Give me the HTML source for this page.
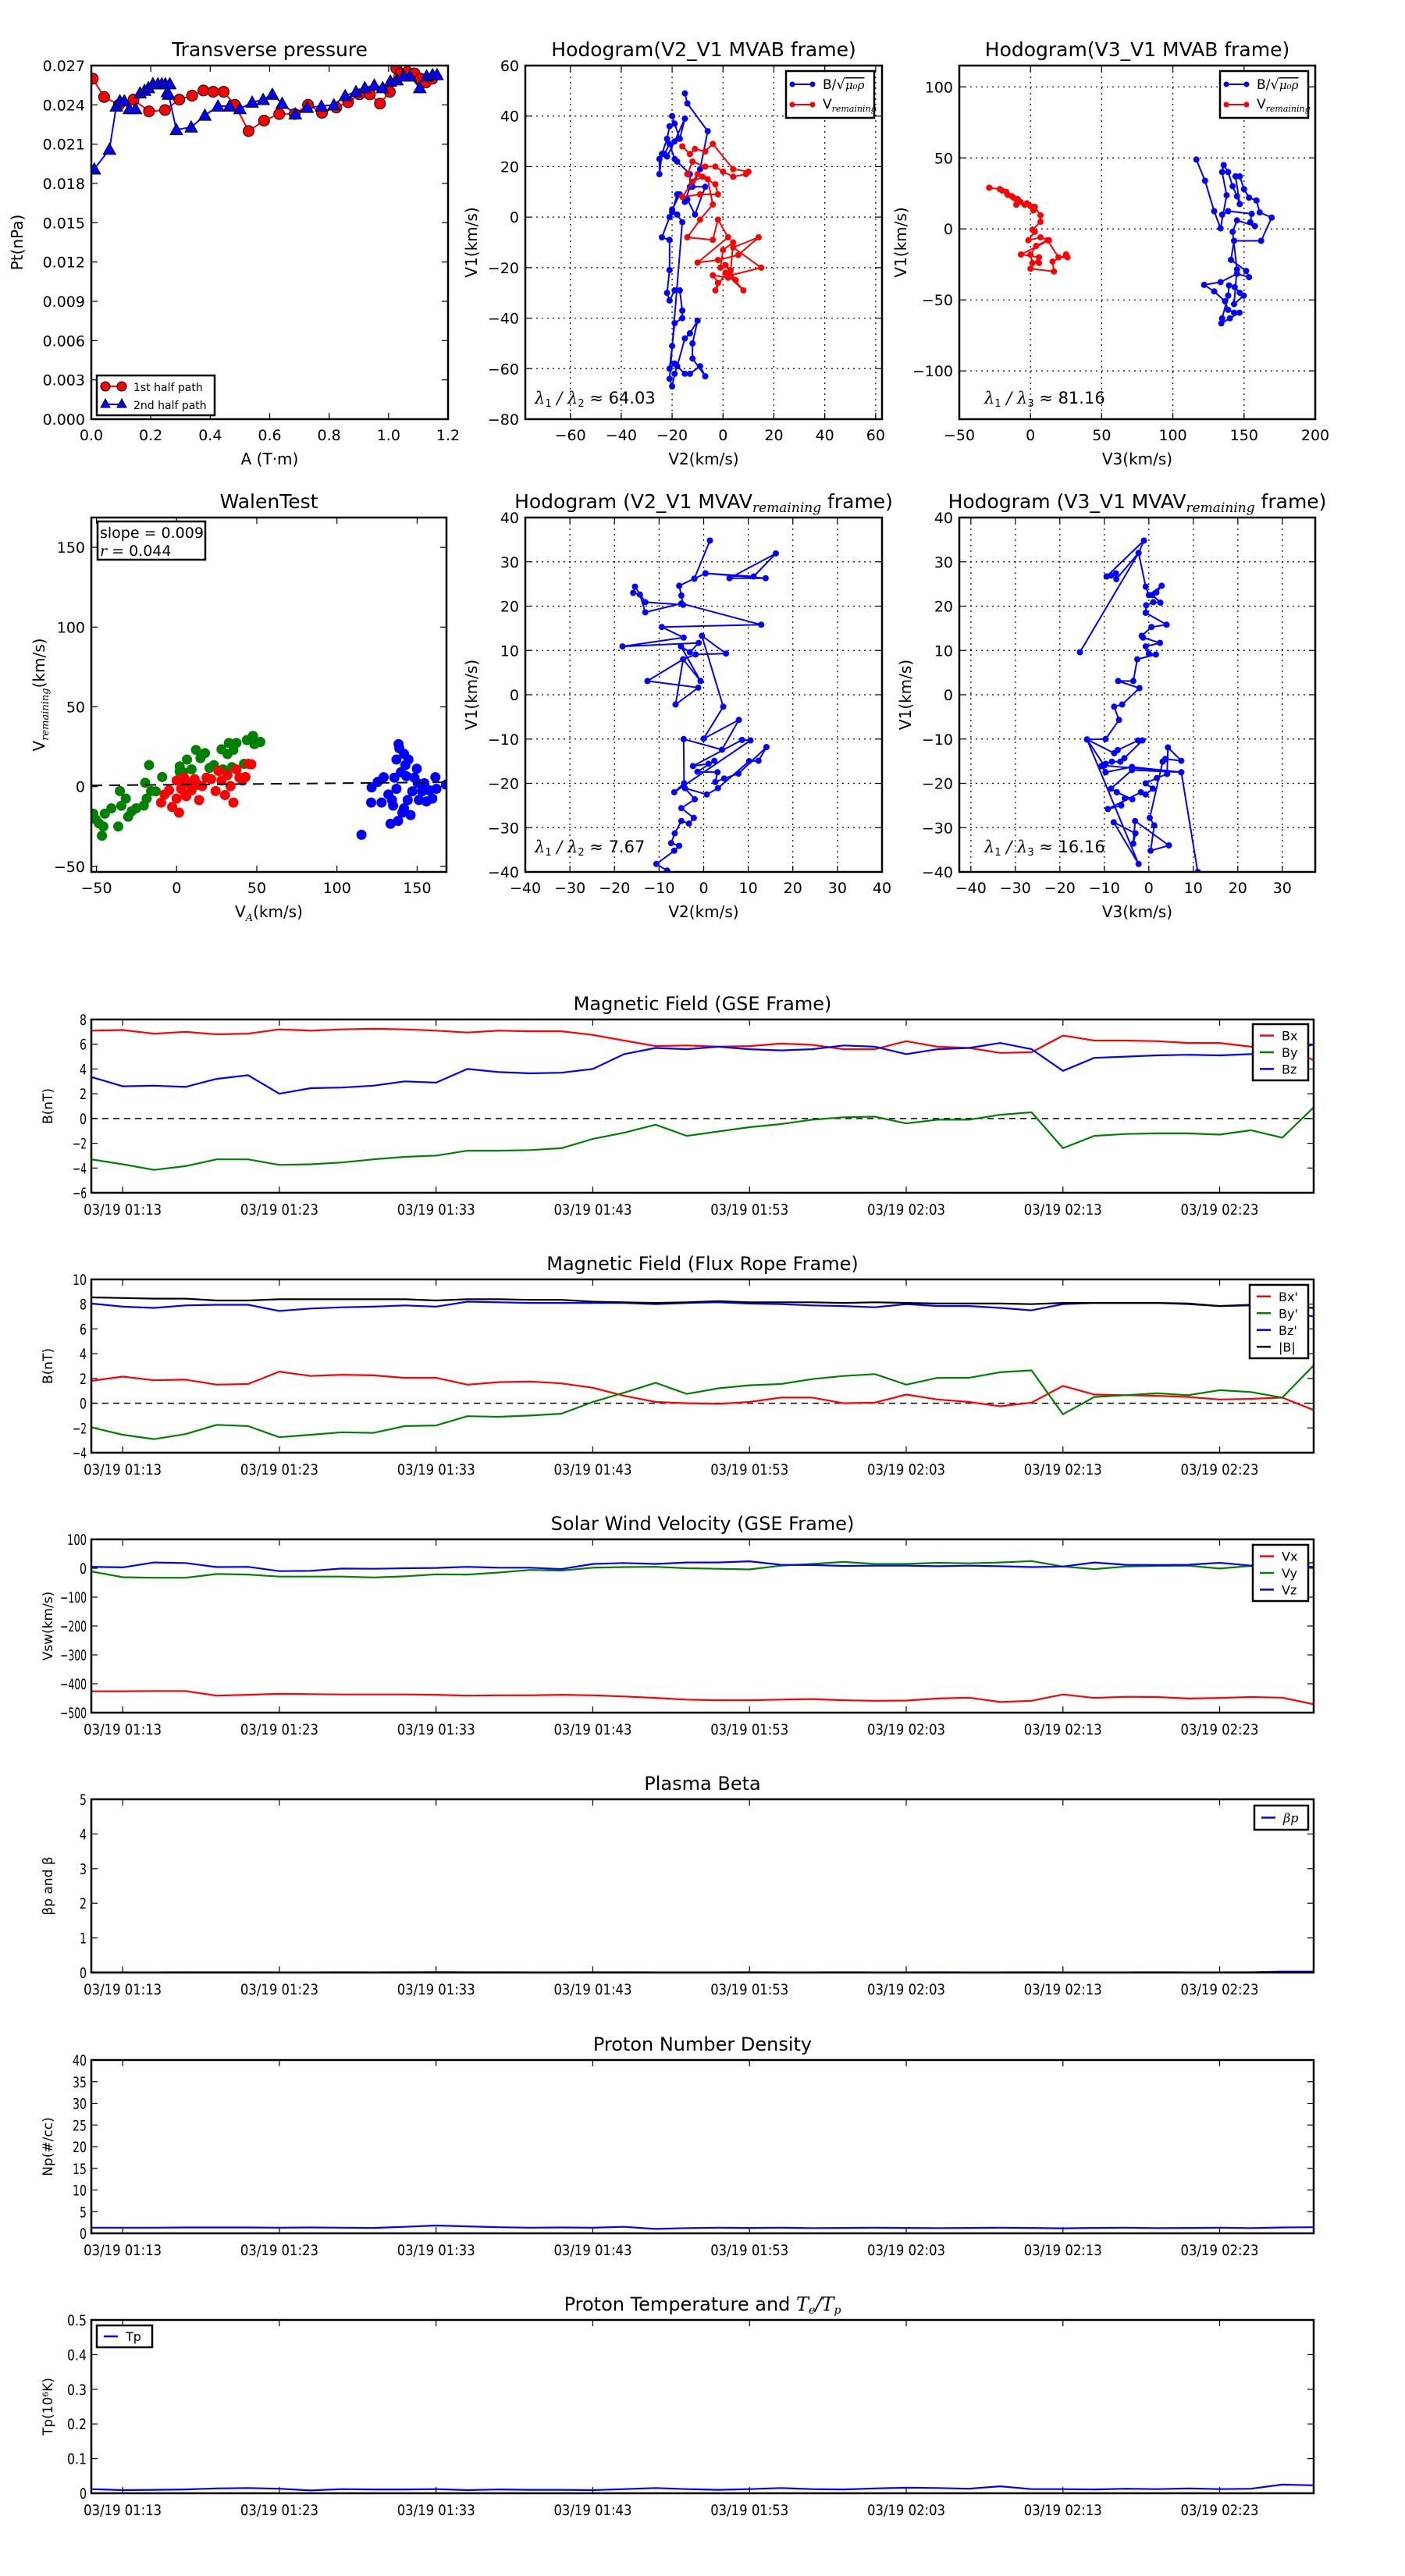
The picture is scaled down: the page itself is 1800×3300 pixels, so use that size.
<!DOCTYPE html>
<html><head><meta charset="utf-8"><title>Flux rope analysis</title>
<style>
html,body{margin:0;padding:0;background:#fff;}
svg{display:block;font-family:"DejaVu Sans","Liberation Sans",sans-serif;}
</style></head>
<body>
<svg id="fig" width="1800" height="3300" viewBox="0 0 1800 3300" xmlns="http://www.w3.org/2000/svg"></svg>
<script>
// ---------- time-series data (every 2 minutes from 01:11) ----------
const tMin = [0,2,4,6,8,10,12,14,16,18,20,22,24,26,28,30,32,34,36,38,40,42,44,46,48,50,52,54,56,58,60,62,64,66,68,70,72,74,76,78];
const timeTickMin = [2,12,22,32,42,52,62,72];
const timeTickLabels = ["03/19 01:13","03/19 01:23","03/19 01:33","03/19 01:43","03/19 01:53","03/19 02:03","03/19 02:13","03/19 02:23"];
const gseBx = [7.1,7.15,6.85,7.0,6.8,6.85,7.2,7.1,7.2,7.25,7.2,7.1,6.95,7.1,7.05,7.05,6.75,6.3,5.85,5.9,5.8,5.85,6.05,5.95,5.6,5.6,6.25,5.8,5.7,5.3,5.35,6.7,6.3,6.3,6.25,6.1,6.1,5.8,5.9,4.7];
const gseBy = [-3.3,-3.7,-4.15,-3.85,-3.3,-3.3,-3.75,-3.7,-3.55,-3.3,-3.1,-3.0,-2.6,-2.6,-2.55,-2.4,-1.65,-1.15,-0.5,-1.4,-1.05,-0.7,-0.45,-0.1,0.1,0.15,-0.4,-0.1,-0.1,0.3,0.5,-2.4,-1.4,-1.25,-1.2,-1.2,-1.3,-0.95,-1.55,0.9];
const gseBz = [3.35,2.6,2.65,2.55,3.2,3.5,2.0,2.45,2.5,2.65,3.0,2.9,4.0,3.75,3.65,3.7,4.0,5.2,5.7,5.6,5.8,5.6,5.5,5.6,5.9,5.8,5.2,5.6,5.7,6.1,5.6,3.85,4.9,5.0,5.1,5.15,5.1,5.2,5.2,6.0];
const frBx = [1.8,2.15,1.85,1.9,1.5,1.55,2.55,2.2,2.3,2.25,2.05,2.05,1.5,1.7,1.75,1.6,1.25,0.6,0.1,0,-0.05,0.1,0.45,0.45,0,0.05,0.7,0.3,0.1,-0.25,0.05,1.4,0.7,0.65,0.6,0.5,0.3,0.35,0.45,-0.55];
const frBy = [-1.95,-2.55,-2.9,-2.5,-1.75,-1.85,-2.75,-2.55,-2.35,-2.4,-1.85,-1.8,-1.05,-1.1,-1.0,-0.85,0.1,0.85,1.65,0.75,1.2,1.45,1.55,1.95,2.2,2.35,1.5,2.05,2.05,2.5,2.65,-0.9,0.5,0.65,0.8,0.65,1.05,0.9,0.45,3.05];
const frBz = [8.05,7.8,7.7,7.9,7.95,7.95,7.45,7.65,7.75,7.8,7.9,7.8,8.2,8.15,8.1,8.1,8.1,8.1,8.0,8.1,8.15,8.05,8.0,7.9,7.85,7.75,8.0,7.85,7.85,7.7,7.5,8.0,8.1,8.1,8.1,8.0,7.85,7.9,7.5,7.0];
const frBm = [8.55,8.5,8.45,8.45,8.3,8.3,8.4,8.4,8.4,8.4,8.4,8.3,8.4,8.4,8.35,8.35,8.2,8.15,8.1,8.15,8.25,8.15,8.15,8.15,8.1,8.15,8.1,8.05,8.05,8.05,8.0,8.1,8.1,8.1,8.1,8.05,7.85,7.95,7.8,7.7];
const velVx = [-426,-426,-425,-425,-441,-438,-435,-436,-437,-437,-437,-438,-441,-440,-440,-438,-440,-444,-449,-455,-457,-457,-455,-453,-457,-459,-458,-451,-448,-463,-459,-437,-449,-445,-446,-451,-449,-446,-448,-471];
const velVy = [-11,-31,-33,-33,-20,-22,-29,-29,-29,-32,-28,-21,-22,-15,-6,-8,2,4,5,0,-2,-4,9,15,22,15,15,19,17,20,25,6,-3,6,8,9,-1,8,6,20];
const velVz = [5,3,20,18,4,5,-10,-9,-1,-2,0,1,5,2,2,-3,15,18,15,20,20,24,12,11,8,9,9,7,9,7,4,6,20,12,11,12,19,9,14,4];
const betaP = [0.01,0.01,0.01,0.012,0.012,0.011,0.01,0.01,0.011,0.01,0.012,0.014,0.012,0.011,0.01,0.01,0.011,0.012,0.01,0.01,0.01,0.011,0.01,0.01,0.011,0.01,0.01,0.011,0.01,0.01,0.012,0.01,0.01,0.01,0.011,0.01,0.01,0.012,0.03,0.03];
const densNp = [1.3,1.3,1.3,1.35,1.35,1.35,1.3,1.35,1.3,1.25,1.5,1.8,1.6,1.4,1.3,1.35,1.3,1.5,1.0,1.2,1.3,1.25,1.3,1.2,1.25,1.3,1.25,1.2,1.25,1.3,1.25,1.15,1.25,1.3,1.2,1.25,1.3,1.2,1.35,1.4];
const tempTp = [0.012,0.009,0.01,0.011,0.014,0.015,0.013,0.008,0.012,0.011,0.011,0.012,0.009,0.011,0.01,0.01,0.009,0.012,0.015,0.012,0.01,0.012,0.015,0.012,0.011,0.014,0.016,0.015,0.013,0.02,0.012,0.012,0.011,0.013,0.012,0.014,0.012,0.013,0.025,0.023];

// ---------- transverse pressure ----------
const pt1A = [0.005,0.043,0.093,0.142,0.194,0.248,0.296,0.339,0.377,0.41,0.445,0.483,0.529,0.581,0.632,0.684,0.729,0.776,0.824,0.864,0.902,0.937,0.971,1.004,1.026,1.041,1.063,1.087,1.107,1.125,1.147];
const pt1P = [0.026,0.0246,0.024,0.0244,0.0235,0.0236,0.0244,0.0247,0.0251,0.025,0.025,0.024,0.022,0.0228,0.0233,0.0233,0.024,0.0234,0.0238,0.0242,0.0248,0.0248,0.0241,0.025,0.0268,0.0264,0.0265,0.0264,0.026,0.0257,0.026];
const pt2A = [0.01,0.061,0.084,0.096,0.111,0.128,0.149,0.164,0.179,0.192,0.207,0.224,0.237,0.249,0.264,0.256,0.26,0.286,0.336,0.382,0.426,0.465,0.5,0.541,0.578,0.609,0.642,0.686,0.726,0.774,0.816,0.854,0.89,0.92,0.952,0.98,1.006,1.028,1.051,1.072,1.105,1.128,1.148,1.163];
const pt2P = [0.0191,0.0206,0.0239,0.0243,0.0243,0.0237,0.0237,0.0249,0.0251,0.0253,0.0256,0.0256,0.0256,0.0256,0.0256,0.025,0.0248,0.0221,0.0223,0.0232,0.0239,0.0239,0.0237,0.0242,0.0244,0.0248,0.0241,0.0233,0.0238,0.0239,0.024,0.0247,0.025,0.0253,0.0255,0.0253,0.0258,0.0259,0.0262,0.0262,0.0253,0.0262,0.0263,0.0263];

// ---------- hodogram MVAB V2-V1 ----------
const h1BlueV2 = [-15,-14,-6,-9,-12,-7,-11,-14,-18,-20,-21,-24,-21,-21,-22,-21,-19,-17,-16,-16,-19,-20,-21,-19,-15,-13,-9,-7,-12,-12,-10,-13,-15,-18,-19,-20,-21,-16,-18,-20,-17,-15,-13,-13,-18,-19,-21,-23,-25,-25,-24,-22,-21,-19,-20,-17,-15,-19,-22];
const h1BlueV1 = [49,45,34,19,12,12,1,7,9,2,0,-8,-9,-21,-30,-33,-29,-29,-37,-40,-42,-51,-60,-58,-62,-62,-59,-63,-56,-50,-41,-46,-48,-59,-62,-67,-64,-2,1,3,9,6,12,17,22,23,29,25,23,17,25,31,36,37,40,31,39,30,24];
const h1RedV2 = [-16,-13,-11,-7,-4,4,10,9,4,0,-3,-7,-12,-14,-12,-8,-3,-2,-9,-16,-10,-6,-4,-9,-14,-4,-2,2,-10,-2,6,14,4,15,3,8,1,-3,-2,-4,2,5,1,3,4,0,-1];
const h1RedV1 = [28,25,27,26,29,19,18,17,16,18,20,20,22,17,14,16,13,9,9,8,17,15,5,-1,-8,-9,-1,-8,-18,-17,-15,-8,-12,-20,-23,-29,-22,-29,-26,-23,-24,-25,-19,-21,-10,-13,-20];

// ---------- hodogram MVAB V3-V1 ----------
const h2RedV3 = [-29,-21.5,-20,-17,-16,-13,-12,-10,-9,-7,-4,-2.5,0,2,3,7,7,1.3,3,-1.5,7,13,-6.7,6,0,16.5,15.5,25,26,19.6,12,4,0,1.3,6];
const h2RedV1 = [29,28,27,26,24,23,22,17,21,19,17,18,16,13,15.5,9.6,5,-0.6,-2,-8,-6,-8,-18,-20,-28,-30,-23,-18,-20,-20,-8,-12,-18,-24,-24];
const h2BlueV3 = [116.5,122.6,129,133.5,137.8,134.6,135.7,138.8,142,145,147,144,147,150,153.5,158.7,161,169.4,162,143,140.8,151.5,153.5,145,133.5,122,129,136.7,138.8,143,146.8,140,134,134.6,138.8,139.4,143.4,147,149.8,143,145,142,145,157.6,154.4,155.4,138.8,134.6];
const h2BlueV1 = [48.8,33.9,12.5,0.4,23.7,40,44.9,40,30,23,17.5,37,37,28,22,20,11.6,8,-8.4,-8.4,-21.8,-29.6,-34,-31.6,-37.5,-39.4,-44,-51,-57,-59,-59,-63,-66.5,-63,-47,-39.8,-41,-45,-47,-53,-28.6,-2,6,2,4.7,10.6,12.5,10];

// ---------- Walen test ----------
const walGreenVA = [-52,-48.5,-46.6,-44.8,-40.7,-36.4,-35.4,-34.5,-31.7,-30.2,-28,-25.2,-20.5,-19.6,-18.7,-17.2,-15.9,-9,1.9,4,6.5,9.3,12.1,14.9,17.7,20.5,23.3,28,28.9,31.7,32.6,35.4,37.3,42,43.8,47.6,48.5,52.2,34.5,1.9,-13,-45.7,-50.4];
const walGreenVR = [-17,-23,-30.8,-17,-13.6,-25,-2.8,-12,-7.5,-18.9,-15.4,-13.6,-11.9,2.4,-7.5,13.5,-2.8,6,12.6,9,17,10.8,23,17.8,21,11.7,13.5,23.4,10.8,20.4,27.4,23,27.4,14.3,29.2,31.8,26.6,28,12.2,9.4,-3,-25,-20.6];
const walRedVA = [-9.7,-7.5,-4.7,-2.8,0,1.5,1.9,2.8,4.7,5.6,7.5,9.3,11.2,13.1,14,15.9,18.7,21.5,24.3,26.1,28,30.2,31.7,33.6,35.4,37.3,39.2,41,42.9,44.8,46.6,0,6,10];
const walRedVR = [-10,-4.9,-2.3,-12.8,-7.5,-16.3,3.8,-1.4,5.6,-4.9,2.1,-2.3,4.7,1.2,-8.4,0.35,5.6,4.7,-2.8,9.9,3.8,-5.3,7.3,0.35,-10,10.8,5.6,3.8,6,14.3,14,3.8,-6,0];
const walBlueVA = [115.3,121.3,121.6,125.4,127.8,129.1,132.1,133.4,134.3,135.8,137.1,138.1,137.1,138.4,138.9,139.9,140.8,141.8,142.7,143.3,144.1,144.6,145.9,147,148.3,149.8,151.1,153,154.5,155.8,157.6,159.5,161.4,162,168,135,141.8,150.4];
const walBlueVR = [-30.2,-10,-0.5,3,-10,5.9,-4.9,-23.3,-8.4,5.6,-1.4,-21.5,17,26.6,24,9,-16.3,20.5,13.5,6.5,-8.4,17,-17.8,-3,5.6,11.2,-8.4,-3,2.1,-9.3,-2.3,-7.5,5.9,-1.4,1.2,-11.9,-13.6,2.1];
const walSlope = [0.009];
const walIntercept = [1.2];

// ---------- hodogram MVAV V2-V1 ----------
const h3V2 = [1.4,-2.1,0.4,11.2,16.2,5.8,13.9,0.4,-5.5,-5,-4.6,-13.1,-15.4,-15.8,-14.3,-13.1,-5,12.9,-9.4,-4.5,-18.2,-1.1,-3.1,-5.1,-0.7,-4.6,-6.3,-1.2,-12.6,-4.6,-1.8,5,-0.4,4.4,0,7.9,4.1,-4.5,-4.4,-6.6,10.5,8.6,-2.4,1.1,2.4,-1.4,3.1,2.6,4.6,7.8,14.1,12.3,10.2,3.2,0.7,-4.2,-2,-5,-2.2,-3.3,-5,-6.5,-7.3,-5.5,-6.6,-10.6,-8.2];
const h3V1 = [34.8,26.2,27.4,26.7,31.9,26.3,26.3,27.4,24.6,22.4,20.3,20.9,24.4,23,22.6,18.6,20.6,15.8,15.3,12.9,10.9,11.7,9.6,10.9,3.1,8,-2.2,1.6,3.1,8,9.1,9.3,13.3,-2.7,-9.9,-5.7,-12.4,-10,-20,-22,-10.3,-10.2,-16.1,-15.6,-14.9,-17.4,-17.5,-19.7,-18.9,-17.8,-11.8,-14.9,-15,-21.1,-22.5,-21.1,-23.6,-25.6,-27.8,-29.1,-28.5,-31.3,-33.5,-34.1,-35.2,-38.2,-39.7];

// ---------- hodogram MVAV V3-V1 ----------
const h4V3 = [-15.5,-2.3,-1.1,-9.5,-8.5,-7.4,-7.3,-2.3,-0.7,0,2.9,1.7,0.8,2.6,1,-0.6,-0.7,4,0.6,-1.6,-1.3,2.5,-0.7,0,1.6,-2.6,-3.5,-6.9,-2.1,-6,-7.8,-6.7,-9.7,-13.9,-7.8,-7,-2.4,-1.4,-5.5,-6.4,-8.3,-9.7,-10.7,-9.7,-3.8,7.3,-3.8,-8.5,-7.2,-3.7,-5.4,-6.2,-9.2,-1.8,-0.7,0.9,-0.7,1.8,4.1,4.3,7.3,3.7,3.1,0.2,1.2,0.4,4.5,-3.1,-3.5,-3,-7.9,-2.3,-13.9,-10,7.3,11];
const h4V1 = [9.6,32,34.8,26.7,26.9,27.4,26.1,32,24.4,22.5,24.6,23.1,22.5,20.8,20.9,20.2,18.5,15.8,15.3,13.3,12.9,11.7,10.9,9.3,9.1,8,3.1,3.1,1.5,-2.2,-2.7,-5.7,-10,-10.1,-13.2,-12.5,-10.3,-10.3,-14.3,-15.1,-15.1,-15.6,-16.1,-17.5,-16.3,-17.5,-17,-21.2,-22,-23.6,-23.4,-25,-25.8,-22,-22.5,-21.2,-20,-18.8,-17.9,-11.9,-14.9,-14.5,-15.1,-27.8,-29.5,-35.2,-34,-28.5,-33.6,-31.3,-28.8,-38.2,-10.1,-16,-17.5,-40];

// =================== drawing helpers ===================
const NS = "http://www.w3.org/2000/svg";
const svg = document.getElementById("fig");
function mk(tag, attrs, parent) {
  const el = document.createElementNS(NS, tag);
  for (const k in attrs) el.setAttribute(k, attrs[k]);
  (parent || svg).appendChild(el);
  return el;
}
function txt(str, x, y, size, anchor, parent, extra) {
  const t = mk("text", Object.assign({x: x, y: y, "font-size": size, "text-anchor": anchor || "middle", fill: "#000"}, extra || {}), parent);
  t.textContent = str;
  return t;
}
function scale(d0, d1, p0, p1) { return v => p0 + (v - d0) * (p1 - p0) / (d1 - d0); }
function clipFor(id, L, T, R, B) {
  const cp = mk("clipPath", {id: id});
  mk("rect", {x: L, y: T, width: R - L, height: B - T}, cp);
}
function frame(g, L, T, R, B) {
  const r = mk("rect", {x: L, y: T, width: R - L, height: B - T, fill: "none", stroke: "#000", "stroke-width": 2.5}, g);
  
  
}
function polyline(g, xs, ys, sx, sy, color, w, clip) {
  let d = "";
  for (let i = 0; i < xs.length; i++) d += (i ? "L" : "M") + sx(xs[i]).toFixed(1) + "," + sy(ys[i]).toFixed(1);
  const p = mk("path", {d: d, fill: "none", stroke: color, "stroke-width": w, "stroke-linejoin": "round", "clip-path": "url(#" + clip + ")"}, g);
  return p;
}

// ---------- generic scatter/line panel ----------
function panel(o) {
  const g = mk("g", {});
  
  
  const sx = scale(o.x0, o.x1, o.L, o.R), sy = scale(o.y0, o.y1, o.B, o.T);
  clipFor(o.name + "-clip", o.L, o.T, o.R, o.B);
  // grid
  if (o.grid) {
    o.xticks.forEach(v => { const X = sx(v); if (X > o.L + 1 && X < o.R - 1) mk("line", {x1: X, y1: o.T, x2: X, y2: o.B, stroke: "#000", "stroke-width": 1.2, "stroke-dasharray": "2,5"}, g); });
    o.yticks.forEach(v => { const Y = sy(v); if (Y > o.T + 1 && Y < o.B - 1) mk("line", {x1: o.L, y1: Y, x2: o.R, y2: Y, stroke: "#000", "stroke-width": 1.2, "stroke-dasharray": "2,5"}, g); });
  }
  // ticks
  o.xticks.forEach((v, i) => {
    const X = sx(v);
    mk("line", {x1: X, y1: o.B, x2: X, y2: o.B - 8, stroke: "#000", "stroke-width": 1.2}, g);
    mk("line", {x1: X, y1: o.T, x2: X, y2: o.T + 8, stroke: "#000", "stroke-width": 1.2}, g);
    const t = txt(o.xlabels[i], X, o.B + 27, o.tickSize || 19, "middle", g);
    
    
  });
  o.yticks.forEach((v, i) => {
    const Y = sy(v);
    mk("line", {x1: o.L, y1: Y, x2: o.L + 8, y2: Y, stroke: "#000", "stroke-width": 1.2}, g);
    mk("line", {x1: o.R, y1: Y, x2: o.R - 8, y2: Y, stroke: "#000", "stroke-width": 1.2}, g);
    const t = txt(o.ylabels[i], o.L - 8, Y + 7, o.tickSize || 19, "end", g);
    
    
  });
  const tt = txt(o.title, (o.L + o.R) / 2, o.T - 12, 25, "middle", g);
  
  
  if (o.titleSub) { const s = mk("tspan", {"font-family": "DejaVu Serif, serif", "font-style": "italic", "font-size": 17, dy: 5}, tt); s.textContent = o.titleSub; const s2 = mk("tspan", {dy: -5}, tt); s2.textContent = o.titleEnd; }
  const xl = txt(o.xtitle, (o.L + o.R) / 2, o.B + 58, 20, "middle", g);
  
  
  if (o.xtitleSub) { const s = mk("tspan", {"font-family": "DejaVu Serif, serif", "font-style": "italic", "font-size": 13, dy: 5}, xl); s.textContent = o.xtitleSub; const s2 = mk("tspan", {dy: -5}, xl); s2.textContent = o.xtitleEnd; }
  const yl = txt(o.ytitle, 0, 0, 20, "middle", g, {transform: "translate(" + (o.L - o.ytOff) + "," + (o.T + o.B) / 2 + ") rotate(-90)"});
  
  
  if (o.ytitleSub) { const s = mk("tspan", {"font-family": "DejaVu Serif, serif", "font-style": "italic", "font-size": 13, dy: 5}, yl); s.textContent = o.ytitleSub; const s2 = mk("tspan", {dy: -5}, yl); s2.textContent = o.ytitleEnd; }
  o.sx = sx; o.sy = sy; o.g = g; o.clip = o.name + "-clip";
  return o;
}
function dots(o, xs, ys, color, r, name, edge) {
  const gg = mk("g", {"clip-path": "url(#" + o.clip + ")"}, o.g);
  for (let i = 0; i < xs.length; i++) {
    const c = mk("circle", {cx: o.sx(xs[i]).toFixed(1), cy: o.sy(ys[i]).toFixed(1), r: r, fill: color, stroke: edge ? "#000" : "none", "stroke-width": edge ? 1 : 0}, gg);
    
    
  }
}
function tris(o, xs, ys, color, s, name) {
  const gg = mk("g", {"clip-path": "url(#" + o.clip + ")"}, o.g);
  for (let i = 0; i < xs.length; i++) {
    const X = o.sx(xs[i]), Y = o.sy(ys[i]);
    const p = mk("polygon", {points: X + "," + (Y - s) + " " + (X - s) + "," + (Y + s * 0.8) + " " + (X + s) + "," + (Y + s * 0.8), fill: color, stroke: "#000", "stroke-width": 1}, gg);
    
    
  }
}
function legendBox(g, x, y, w, h) {
  const r = mk("rect", {x: x, y: y, width: w, height: h, fill: "#fff", stroke: "#000", "stroke-width": 2.5}, g);
  
  
}
function sqrtLabel(g, x, y) {
  const t = txt("B/", x, y, 17, "start", g);
  
  
  const s = mk("tspan", {"font-size": 18}, t); s.textContent = "\u221A";
  const s2 = mk("tspan", {"font-family": "DejaVu Serif, serif", "font-style": "italic", "font-size": 15, "text-decoration": "overline"}, t); s2.textContent = "\u03BC\u2080\u03C1";
}
function vremLabel(g, x, y) {
  const t = txt("V", x, y, 17, "start", g);
  
  
  const s = mk("tspan", {"font-family": "DejaVu Serif, serif", "font-style": "italic", "font-size": 11, dy: 4}, t); s.textContent = "remaining";
}
function hodoLegend(g, x, y) {
  legendBox(g, x, y, 113, 60);
  mk("line", {x1: x + 8, y1: y + 17, x2: x + 34, y2: y + 17, stroke: "#0000ff", "stroke-width": 2}, g);
  mk("circle", {cx: x + 8, cy: y + 17, r: 3.5, fill: "#0000ff"}, g);
  mk("circle", {cx: x + 34, cy: y + 17, r: 3.5, fill: "#0000ff"}, g);
  sqrtLabel(g, x + 47, y + 23);
  mk("line", {x1: x + 8, y1: y + 43, x2: x + 34, y2: y + 43, stroke: "#ff0000", "stroke-width": 2}, g);
  mk("circle", {cx: x + 8, cy: y + 43, r: 3.5, fill: "#ff0000"}, g);
  mk("circle", {cx: x + 34, cy: y + 43, r: 3.5, fill: "#ff0000"}, g);
  vremLabel(g, x + 47, y + 48);
}
function lambdaLabel(g, x, y, sub, val) {
  const t = txt("", x, y, 21, "start", g);
  
  
  const a = mk("tspan", {"font-family": "DejaVu Serif, serif", "font-style": "italic"}, t); a.textContent = "\u03BB";
  const b = mk("tspan", {"font-size": 13, dy: 4}, t); b.textContent = "1";
  const c = mk("tspan", {dy: -4, "font-family": "DejaVu Serif, serif", "font-style": "italic"}, t); c.textContent = " / \u03BB";
  const d = mk("tspan", {"font-size": 13, dy: 4}, t); d.textContent = sub;
  const e = mk("tspan", {dy: -4}, t); e.textContent = " \u2248 " + val;
}

// =================== Row 1 ===================
const P1 = panel({name: "transverse-pressure-panel", L: 117, T: 84, R: 574, B: 537, x0: 0, x1: 1.2, y0: 0, y1: 0.027,
  xticks: [0,0.2,0.4,0.6,0.8,1.0,1.2], xlabels: ["0.0","0.2","0.4","0.6","0.8","1.0","1.2"],
  yticks: [0,0.003,0.006,0.009,0.012,0.015,0.018,0.021,0.024,0.027], ylabels: ["0.000","0.003","0.006","0.009","0.012","0.015","0.018","0.021","0.024","0.027"],
  title: "Transverse pressure", xtitle: "A (T\u00B7m)", ytitle: "Pt(nPa)", ytOff: 88});
polyline(P1.g, pt1A, pt1P, P1.sx, P1.sy, "#ff0000", 2, P1.clip);
polyline(P1.g, pt2A, pt2P, P1.sx, P1.sy, "#0000ff", 2, P1.clip);
dots(P1, pt1A, pt1P, "#ff0000", 7, "pt-first-half-point", true);
tris(P1, pt2A, pt2P, "#0000ff", 8, "pt-second-half-point");
frame(P1.g, 117, 84, 574, 537);
(function () {
  const g = P1.g; legendBox(g, 124, 481, 151, 51);
  mk("line", {x1: 134, y1: 495, x2: 156, y2: 495, stroke: "#ff0000", "stroke-width": 2}, g);
  mk("circle", {cx: 135, cy: 495, r: 6, fill: "#ff0000", stroke: "#000"}, g);
  mk("circle", {cx: 156, cy: 495, r: 6, fill: "#ff0000", stroke: "#000"}, g);
  const a = txt("1st half path", 171, 501, 14, "start", g);
  
  
  mk("line", {x1: 134, y1: 518, x2: 156, y2: 518, stroke: "#0000ff", "stroke-width": 2}, g);
  mk("polygon", {points: "135,511 129,522 141,522", fill: "#0000ff", stroke: "#000"}, g);
  mk("polygon", {points: "156,511 150,522 162,522", fill: "#0000ff", stroke: "#000"}, g);
  const b = txt("2nd half path", 171, 524, 14, "start", g);
  
  
})();

const P2 = panel({name: "hodogram-mvab-v2-v1", L: 673, T: 84, R: 1130, B: 537, x0: -77.7, x1: 62.5, y0: -80, y1: 60, grid: true,
  xticks: [-60,-40,-20,0,20,40,60], xlabels: ["\u221260","\u221240","\u221220","0","20","40","60"],
  yticks: [-80,-60,-40,-20,0,20,40,60], ylabels: ["\u221280","\u221260","\u221240","\u221220","0","20","40","60"],
  title: "Hodogram(V2_V1 MVAB frame)", xtitle: "V2(km/s)", ytitle: "V1(km/s)", ytOff: 62});
polyline(P2.g, h1BlueV2, h1BlueV1, P2.sx, P2.sy, "#0000ff", 2, P2.clip);
dots(P2, h1BlueV2, h1BlueV1, "#0000ff", 4, "b-hodogram-point");
polyline(P2.g, h1RedV2, h1RedV1, P2.sx, P2.sy, "#ff0000", 2, P2.clip);
dots(P2, h1RedV2, h1RedV1, "#ff0000", 4, "v-hodogram-point");
frame(P2.g, 673, 84, 1130, 537);
hodoLegend(P2.g, 1007, 91);
lambdaLabel(P2.g, 685, 517, "2", "64.03");

const P3 = panel({name: "hodogram-mvab-v3-v1", L: 1229, T: 84, R: 1685, B: 537, x0: -50, x1: 200, y0: -134, y1: 115, grid: true,
  xticks: [-50,0,50,100,150,200], xlabels: ["\u221250","0","50","100","150","200"],
  yticks: [-100,-50,0,50,100], ylabels: ["\u2212100","\u221250","0","50","100"],
  title: "Hodogram(V3_V1 MVAB frame)", xtitle: "V3(km/s)", ytitle: "V1(km/s)", ytOff: 68});
polyline(P3.g, h2BlueV3, h2BlueV1, P3.sx, P3.sy, "#0000ff", 2, P3.clip);
dots(P3, h2BlueV3, h2BlueV1, "#0000ff", 4, "b-hodogram-point");
polyline(P3.g, h2RedV3, h2RedV1, P3.sx, P3.sy, "#ff0000", 2, P3.clip);
dots(P3, h2RedV3, h2RedV1, "#ff0000", 4, "v-hodogram-point");
frame(P3.g, 1229, 84, 1685, 537);
hodoLegend(P3.g, 1563, 91);
lambdaLabel(P3.g, 1261, 517, "3", "81.16");

// =================== Row 2 ===================
const P4 = panel({name: "walen-test-panel", L: 117, T: 663, R: 572, B: 1117, x0: -53.2, x1: 168.3, y0: -53.5, y1: 168.7,
  xticks: [-50,0,50,100,150], xlabels: ["\u221250","0","50","100","150"],
  yticks: [-50,0,50,100,150], ylabels: ["\u221250","0","50","100","150"],
  title: "WalenTest", xtitle: "V", xtitleSub: "A", xtitleEnd: "(km/s)", ytitle: "V", ytitleSub: "remaining", ytitleEnd: "(km/s)", ytOff: 60});
dots(P4, walGreenVA, walGreenVR, "#008000", 6.5, "walen-point-green");
dots(P4, walRedVA, walRedVR, "#ff0000", 6.5, "walen-point-red");
dots(P4, walBlueVA, walBlueVR, "#0000ff", 6.5, "walen-point-blue");
(function () {
  const xa = [-53.2, 168.3];
  const ya = xa.map(v => walSlope[0] * v + walIntercept[0]);
  const p = polyline(P4.g, xa, ya, P4.sx, P4.sy, "#000", 2, P4.clip);
  p.setAttribute("stroke-dasharray", "14,9");
  
  
})();
frame(P4.g, 117, 663, 572, 1117);
(function () {
  const g = P4.g; legendBox(g, 125, 668, 138, 49);
  const a = txt("slope = " + walSlope[0].toFixed(3), 128, 689, 19, "start", g);
  
  
  const b = txt("", 128, 712, 19, "start", g);
  
  
  const s = mk("tspan", {"font-family": "DejaVu Serif, serif", "font-style": "italic"}, b); s.textContent = "r";
  const s2 = mk("tspan", {}, b); s2.textContent = " = 0.044";
})();

const P5 = panel({name: "hodogram-mvav-v2-v1", L: 673, T: 663, R: 1130, B: 1117, x0: -40, x1: 40, y0: -40, y1: 40, grid: true,
  xticks: [-40,-30,-20,-10,0,10,20,30,40], xlabels: ["\u221240","\u221230","\u221220","\u221210","0","10","20","30","40"],
  yticks: [-40,-30,-20,-10,0,10,20,30,40], ylabels: ["\u221240","\u221230","\u221220","\u221210","0","10","20","30","40"],
  title: "Hodogram (V2_V1 MVAV", titleSub: "remaining", titleEnd: " frame)", xtitle: "V2(km/s)", ytitle: "V1(km/s)", ytOff: 62});
polyline(P5.g, h3V2, h3V1, P5.sx, P5.sy, "#0000ff", 2, P5.clip);
dots(P5, h3V2, h3V1, "#0000ff", 4, "mvav-hodogram-point");
frame(P5.g, 673, 663, 1130, 1117);
lambdaLabel(P5.g, 685, 1124 - 32, "2", "7.67");

const P6 = panel({name: "hodogram-mvav-v3-v1", L: 1229, T: 663, R: 1685, B: 1117, x0: -42.6, x1: 37.4, y0: -40, y1: 40, grid: true,
  xticks: [-40,-30,-20,-10,0,10,20,30], xlabels: ["\u221240","\u221230","\u221220","\u221210","0","10","20","30"],
  yticks: [-40,-30,-20,-10,0,10,20,30,40], ylabels: ["\u221240","\u221230","\u221220","\u221210","0","10","20","30","40"],
  title: "Hodogram (V3_V1 MVAV", titleSub: "remaining", titleEnd: " frame)", xtitle: "V3(km/s)", ytitle: "V1(km/s)", ytOff: 62});
polyline(P6.g, h4V3, h4V1, P6.sx, P6.sy, "#0000ff", 2, P6.clip);
dots(P6, h4V3, h4V1, "#0000ff", 4, "mvav-hodogram-point");
frame(P6.g, 1229, 663, 1685, 1117);
lambdaLabel(P6.g, 1261, 1092, "3", "16.16");

// =================== Time series ===================
const TL = 117, TR = 1683, TH = 222;
const sxT = scale(0, 78, TL, TR);
function tsPanel(o) {
  const T = o.T, B = o.T + TH;
  const g = mk("g", {});
  
  
  const sy = scale(o.y0, o.y1, B, T);
  const clip = o.name + "-clip";
  clipFor(clip, TL, T, TR, B);
  timeTickMin.forEach((m, i) => {
    const X = sxT(m);
    mk("line", {x1: X, y1: B, x2: X, y2: B - 8, stroke: "#000", "stroke-width": 1.2}, g);
    mk("line", {x1: X, y1: T, x2: X, y2: T + 8, stroke: "#000", "stroke-width": 1.2}, g);
    const t = txt(timeTickLabels[i], X, B + 28, 19, "middle", g, {textLength: 100, lengthAdjust: "spacingAndGlyphs"});
    
    
  });
  o.yticks.forEach(v => {
    const Y = sy(v);
    mk("line", {x1: TL, y1: Y, x2: TL + 8, y2: Y, stroke: "#000", "stroke-width": 1.2}, g);
    mk("line", {x1: TR, y1: Y, x2: TR - 8, y2: Y, stroke: "#000", "stroke-width": 1.2}, g);
    const lab = String(v).replace("-", "\u2212");
    const t = txt(lab, TL - 6, Y + 7, 19, "end", g, {textLength: lab.length * 9 + (lab.length > 2 ? -2 : 0), lengthAdjust: "spacingAndGlyphs"});
    
    
  });
  if (o.zero) {
    const z = mk("line", {x1: TL, y1: sy(0), x2: TR, y2: sy(0), stroke: "#000", "stroke-width": 1.5, "stroke-dasharray": "8,6"}, g);
    
    
  }
  o.series.forEach(s => {
    const p = polyline(g, tMin, s.data, sxT, sy, s.color, 2.2, clip);
    
    
  });
  const tt = txt(o.title, (TL + TR) / 2, T - 12, 24, "middle", g);
  
  
  if (o.titleMath) { const a = mk("tspan", {"font-family": "DejaVu Serif, serif", "font-style": "italic"}, tt); a.textContent = "T"; const b = mk("tspan", {"font-size": 14, dy: 4, "font-family": "DejaVu Serif, serif", "font-style": "italic"}, tt); b.textContent = "e"; const c = mk("tspan", {dy: -4, "font-family": "DejaVu Serif, serif", "font-style": "italic"}, tt); c.textContent = "/T"; const d = mk("tspan", {"font-size": 14, dy: 4, "font-family": "DejaVu Serif, serif", "font-style": "italic"}, tt); d.textContent = "p"; }
  const yl = txt(o.ytitle, 0, 0, 17, "middle", g, {transform: "translate(" + (TL - 50) + "," + (T + B) / 2 + ") rotate(-90)"});
  
  
  frame(g, TL, T, TR, B);
  // legend
  const lg = o.legend;
  legendBox(g, lg.x, lg.y, lg.w, lg.h);
  const step = (lg.h - 8) / o.series.length;
  o.series.forEach((s, i) => {
    const Y = lg.y + 4 + step * (i + 0.5);
    mk("line", {x1: lg.x + 9, y1: Y, x2: lg.x + 27, y2: Y, stroke: s.color, "stroke-width": 2.5}, g);
    const t = txt(s.label, lg.x + 37, Y + 6, 16, "start", g, s.math ? {"font-family": "DejaVu Serif, serif", "font-style": "italic"} : {});
    
    
  });
}
tsPanel({name: "magnetic-field-gse-panel", T: 1306, y0: -6, y1: 8, yticks: [-6,-4,-2,0,2,4,6,8], zero: true,
  title: "Magnetic Field (GSE Frame)", ytitle: "B(nT)",
  series: [{label: "Bx", data: gseBx, color: "#ff0000"}, {label: "By", data: gseBy, color: "#008000"}, {label: "Bz", data: gseBz, color: "#0000ff"}],
  legend: {x: 1605, y: 1312, w: 71, h: 72}});
tsPanel({name: "magnetic-field-flux-rope-panel", T: 1639, y0: -4, y1: 10, yticks: [-4,-2,0,2,4,6,8,10], zero: true,
  title: "Magnetic Field (Flux Rope Frame)", ytitle: "B(nT)",
  series: [{label: "Bx'", data: frBx, color: "#ff0000"}, {label: "By'", data: frBy, color: "#008000"}, {label: "Bz'", data: frBz, color: "#0000ff"}, {label: "|B|", data: frBm, color: "#000000"}],
  legend: {x: 1601, y: 1646, w: 75, h: 94}});
tsPanel({name: "solar-wind-velocity-panel", T: 1972, y0: -500, y1: 100, yticks: [-500,-400,-300,-200,-100,0,100],
  title: "Solar Wind Velocity (GSE Frame)", ytitle: "Vsw(km/s)",
  series: [{label: "Vx", data: velVx, color: "#ff0000"}, {label: "Vy", data: velVy, color: "#008000"}, {label: "Vz", data: velVz, color: "#0000ff"}],
  legend: {x: 1605, y: 1979, w: 71, h: 72}});
tsPanel({name: "plasma-beta-panel", T: 2305, y0: 0, y1: 5, yticks: [0,1,2,3,4,5],
  title: "Plasma Beta", ytitle: "\u03B2p and \u03B2",
  series: [{label: "\u03B2p", data: betaP, color: "#0000ff", math: true}],
  legend: {x: 1607, y: 2313, w: 69, h: 31}});
tsPanel({name: "proton-density-panel", T: 2639, y0: 0, y1: 40, yticks: [0,5,10,15,20,25,30,35,40],
  title: "Proton Number Density", ytitle: "Np(#/cc)",
  series: [{label: "Np", data: densNp, color: "#0000ff"}],
  legend: {x: -500, y: -500, w: 1, h: 1}});
tsPanel({name: "proton-temperature-panel", T: 2972, y0: 0, y1: 0.5, yticks: [0,0.1,0.2,0.3,0.4,0.5],
  title: "Proton Temperature and ", titleMath: true, ytitle: "Tp(10\u2076K)",
  series: [{label: "Tp", data: tempTp, color: "#0000ff"}],
  legend: {x: 124, y: 2979, w: 71, h: 28}});
</script>
</body></html>
